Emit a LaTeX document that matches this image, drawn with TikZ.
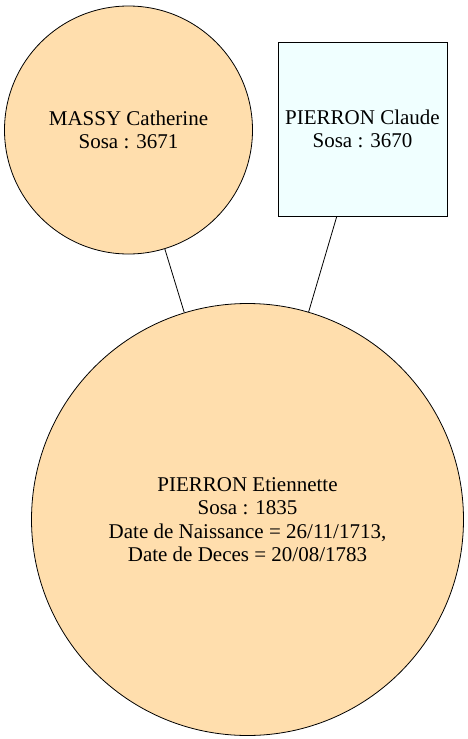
\documentclass[tikz,border=0pt]{standalone}
\usepackage{fontspec}
\setmainfont{Liberation Serif}
\definecolor{nw}{HTML}{FFDEAD}
\definecolor{az}{HTML}{F0FFFF}
\begin{document}
\begin{tikzpicture}[x=1pt,y=-1pt,
  person/.style={draw=black,line width=0.8pt,align=center,font=\fontsize{21}{23.5}\selectfont,inner sep=0pt},
  fem/.style={person,circle,fill=nw},
  masc/.style={person,rectangle,fill=az},
  link/.style={draw=black,line width=0.8pt}]
\useasboundingbox (0,0) rectangle (468,739);
\node[fem,minimum size=248pt] (cath) at (128.5,130) {MASSY Catherine\\Sosa : 3671};
\node[masc,minimum width=169pt,minimum height=174pt] (claude) at (362.5,129) {PIERRON Claude\\Sosa : 3670};
\node[fem,minimum size=432pt] (etie) at (247.5,519.5) {PIERRON Etiennette\\Sosa : 1835\\Date de Naissance = 26/11/1713,\\Date de Deces = 20/08/1783};
\draw[link] (cath) -- (etie);
\draw[link] (claude) -- (etie);
\end{tikzpicture}
\end{document}
